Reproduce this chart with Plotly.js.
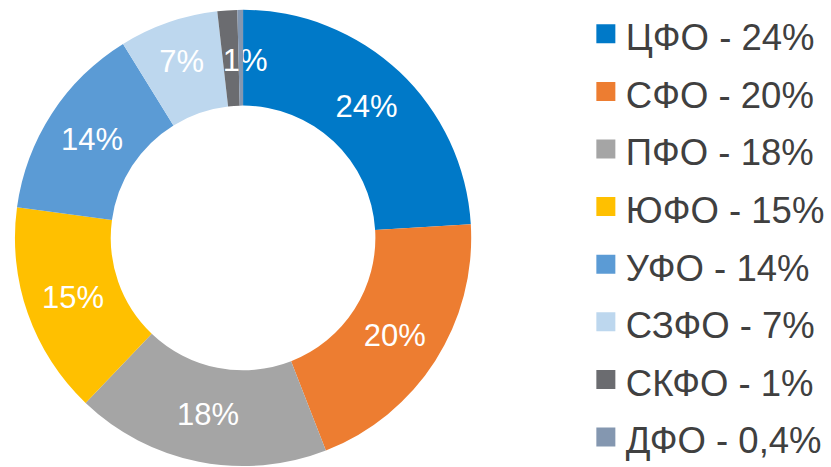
<!DOCTYPE html>
<html>
<head>
<meta charset="utf-8">
<script src="https://cdn.plot.ly/plotly-3.0.1.min.js"></script>
<style>html,body{margin:0;padding:0;background:#fff;}#chart{width:831px;height:467px;}</style>
</head>
<body>
<div id="chart"></div>
<script>
var regions = ["ЦФО", "СФО", "ПФО", "ЮФО", "УФО", "СЗФО", "СКФО", "ДФО"];
var shares = [24, 20, 18, 15, 14, 7, 1.4, 0.4];
var shareLabels = ["24%", "20%", "18%", "15%", "14%", "7%", "1%", "0,4%"];
var pad = "\u00a0\u00a0\u00a0\u00a0";
var blank = "\u00a0";
var sliceTexts = ["24%", "20%", "18%", "15%", "14%", "7%", blank + "<br>" + blank + "<br>" + pad + "1%", ""];
var colors = ["#0079C8", "#ED7D31", "#A5A5A5", "#FFC000", "#5B9BD5", "#BDD7EE", "#6B6C70", "#8497B0"];

var legendNames = regions.map(function (r, i) {
  return '<span style="font-size:36.5px">' + r + ' - ' + shareLabels[i] + '</span>';
});

var trace = {
  type: "pie",
  labels: legendNames,
  values: shares,
  text: sliceTexts,
  textinfo: "text",
  textposition: "inside",
  insidetextorientation: "horizontal",
  insidetextfont: {family: "Liberation Sans, Arial, sans-serif", size: 31, color: "#FFFFFF"},
  sort: false,
  direction: "clockwise",
  rotation: 0,
  hole: 0.58,
  marker: {colors: colors, line: {width: 0}},
  domain: {x: [0, 0.585], y: [0.002, 0.979]},
  hoverinfo: "none"
};

var layout = {
  width: 831,
  height: 467,
  margin: {l: 0, r: 0, t: 0, b: 0},
  paper_bgcolor: "#FFFFFF",
  showlegend: true,
  uniformtext: {minsize: 31, mode: "show"},
  legend: {
    x: 0.705, xanchor: "left",
    y: 0.99, yanchor: "top",
    font: {family: "Liberation Sans, Arial, sans-serif", size: 42, color: "#404040"},
    bgcolor: "rgba(0,0,0,0)"
  }
};

Plotly.newPlot("chart", [trace], layout, {staticPlot: true}).then(function (gd) {
  // enlarge legend swatches to match the reference square size
  gd.querySelectorAll(".legendpie").forEach(function (p) {
    p.setAttribute("d", "M9.5,9.5H-9.5V-9.5H9.5Z");
  });
});
</script>
</body>
</html>
